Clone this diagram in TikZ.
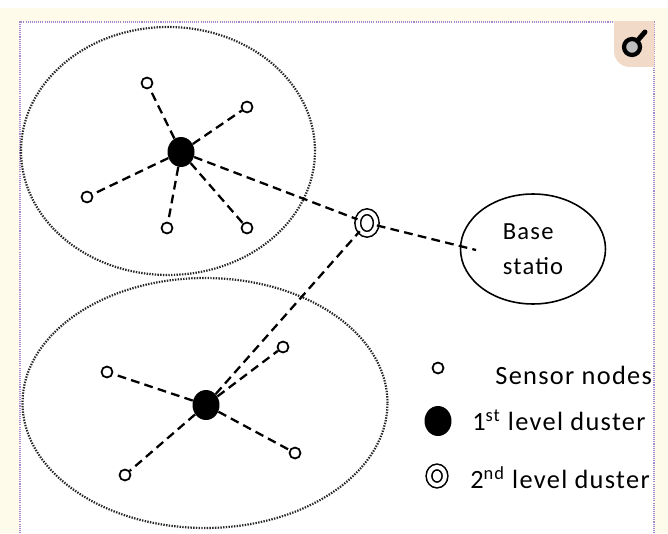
\documentclass[tikz,border=0pt]{standalone}
\usepackage{fontspec}
\setmainfont{Carlito}
\newfontfamily\legendfont[LetterSpace=5]{Carlito}
\definecolor{creambg}{RGB}{255, 251, 235}
\definecolor{framepurple}{RGB}{165, 135, 205}
\definecolor{icontan}{RGB}{242, 218, 200}
\usepackage{tikz}
\usetikzlibrary{shapes, positioning}

\begin{document}
\begin{tikzpicture}[x=0.02cm, y=-0.02cm,
  zone/.style={ellipse, draw=black!85, line width=1.25pt, dash pattern=on 0.8pt off 0.75pt, inner sep=0pt},
  sensor/.style={circle, draw, line width=1pt, fill=white, minimum size=0.22cm, inner sep=0pt},
  head/.style={ellipse, fill=black, minimum width=0.54cm, minimum height=0.6cm, inner sep=0pt},
  superhead/.style={ellipse, draw, fill=white, line width=0.9pt, double, double distance=2.3pt, minimum width=0.37cm, minimum height=0.45cm, inner sep=0pt},
  link/.style={line width=1.3pt, dash pattern=on 5pt off 3pt},
  lbl/.style={font=\legendfont\fontsize{15}{18}\selectfont, inner sep=0pt}]

  % Page and frame
  \fill[white] (0,0) rectangle (668,533);
  \fill[creambg] (0,8) rectangle (668,533);
  \fill[white] (20,22) rectangle (654,533);
  \draw[framepurple, line width=0.6pt, dash pattern=on 0.6pt off 0.6pt] (20,533) -- (20,22) -- (654,22) -- (654,533);

  % Corner icon
  \begin{scope}
    \clip (600,22) rectangle (654,67);
    \fill[icontan, rounded corners=9pt] (614,5) rectangle (670,67);
  \end{scope}
  \draw[line width=2.8pt, line cap=round] (638,40) -- (645,32);
  \draw[line width=2.4pt, fill=black!25] (632,47) circle[radius=8];

  % Cluster areas
  \node[zone, minimum width=5.88cm, minimum height=4.96cm] (topzone) at (168,151) {};
  \node[zone, minimum width=7.3cm, minimum height=5cm] (botzone) at (205,403) {};

  % Top cluster
  \node[head] (hubA) at (181,152) {};
  \node[sensor] (a1) at (147,83) {};
  \node[sensor] (a2) at (247,107) {};
  \node[sensor] (a3) at (87,197) {};
  \node[sensor] (a4) at (167,228) {};
  \node[sensor] (a5) at (247,228) {};

  % Bottom cluster
  \node[head] (hubB) at (206,405) {};
  \node[sensor] (b1) at (107,372) {};
  \node[sensor] (b2) at (283,347) {};
  \node[sensor] (b3) at (295,453) {};
  \node[sensor] (b4) at (125,475) {};

  % 2nd level head and base station
  \node[superhead] (up) at (367,223) {};
  \node[ellipse, draw, line width=0.9pt, minimum width=2.9cm, minimum height=2.2cm, inner sep=0pt, align=left, font=\legendfont\fontsize{14}{20}\selectfont] (base) at (533,249) {Base\\statio};
  \coordinate (basein) at (476,250);

  % Links
  \foreach \s in {a1,a2,a3,a4,a5}
    \draw[link] (hubA) -- (\s);
  \foreach \s in {b1,b2,b3,b4}
    \draw[link] (hubB) -- (\s);
  \draw[link] (hubA) -- (up);
  \draw[link] (hubB) -- (up);
  \draw[link] (up) -- (basein);

  % Legend
  \node[sensor] (lsensor) at (438,368) {};
  \node[head] (lhead) at (438,421) {};
  \node[superhead, minimum width=0.32cm, minimum height=0.36cm] (lup) at (437,476) {};
  \node[lbl, anchor=west] (tsensor) at (495,375) {Sensor nodes};
  \node[lbl, anchor=west] (thead) at (472,420) {1\textsuperscript{st} level duster};
  \node[lbl, anchor=west] (tup) at (470,478) {2\textsuperscript{nd} level duster};

  \useasboundingbox (0,0) rectangle (668,533);
\end{tikzpicture}
\end{document}
